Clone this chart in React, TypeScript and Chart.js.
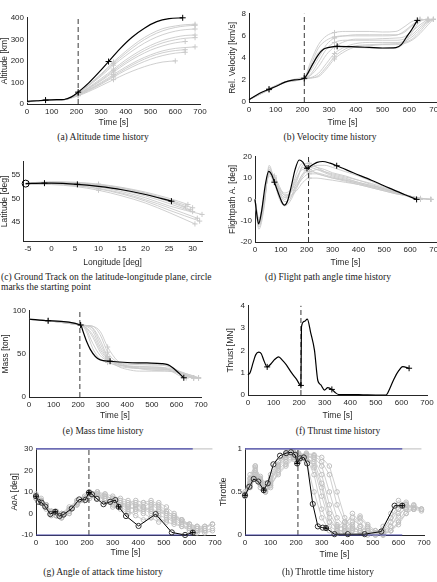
import React, { useEffect, useRef } from "react";
import { Chart, registerables } from "chart.js";
Chart.register(...registerables);

// ---------- tick labels ----------
const timeTicks = [0, 100, 200, 300, 400, 500, 600, 700];
const altTicks = [0, 100, 200, 300, 400];
const velTicks = [0, 2, 4, 6, 8];
const lonTicks = [-5, 0, 5, 10, 15, 20, 25, 30];
const latTicks = [45, 50, 55];
const fpaTicks = [-20, -10, 0, 10, 20];
const massTicks = [0, 50, 100];
const thrustTicks = [0, 1, 2, 3, 4];
const aoaTicks = [-10, 0, 10, 20, 30];
const throttleTicks = [0, 0.5, 1];
const phaseSwitch = 207;

// ---------- (a) altitude ----------
const altT = [0, 40, 75, 120, 150, 180, 207, 250, 300, 330, 375, 425, 475, 525, 575, 630];
const altB = [12, 15, 18, 20, 21, 33, 55, 98, 158, 197, 255, 310, 352, 382, 396, 400];
const altMarks = [2, 6, 9, 15];
const altGT = [0, 75, 150, 207, 250, 300, 350, 400, 450, 500, 550, 600, 640, 680];
const altG1 = [10, 17, 20, 52, 90, 140, 195, 245, 290, 325, 350, 362, 368, 370];
const altG2 = [10, 17, 20, 50, 85, 130, 180, 225, 265, 298, 322, 338, 345, 348];
const altG3 = [10, 17, 20, 47, 78, 118, 162, 205, 242, 272, 295, 310, 318, 320];
const altG4 = [10, 17, 20, 45, 72, 108, 148, 188, 222, 250, 270, 284, 290, null];
const altG5 = [10, 17, 20, 43, 68, 100, 137, 172, 203, 228, 247, 258, 262, 265];
const altG6 = [10, 17, 20, 40, 62, 92, 125, 157, 185, 208, 225, 236, 240, null];
const altG7 = [10, 17, 20, 38, 58, 85, 113, 140, 163, 182, 195, 200, null, null];
const altG8 = [10, 17, 20, 51, 88, 136, 188, 236, 280, 315, 340, 355, 362, 365];
const altG9 = [10, 17, 20, 46, 75, 112, 155, 196, 232, 262, 284, 298, 305, 308];
const altG10 = [10, 17, 20, 42, 65, 96, 130, 165, 195, 220, 238, 248, 252, null];

// ---------- (b) velocity ----------
const velT = [0, 40, 75, 100, 140, 170, 207, 220, 240, 260, 280, 300, 330, 400, 450, 500, 550, 570, 590, 610, 630];
const velB = [0.2, 0.8, 1.15, 1.4, 1.85, 2.0, 2.15, 2.6, 3.5, 4.3, 4.8, 4.95, 5.05, 5.0, 4.95, 4.9, 4.93, 5.2, 5.9, 6.6, 7.4];
const velMarks = [2, 6, 12, 20];
const velGT = [0, 75, 140, 207, 230, 260, 290, 320, 360, 400, 450, 500, 550, 580, 610, 640, 670, 690];
const velG1 = [0.2, 1.15, 1.85, 2.2, 3.6, 5.2, 6.0, 6.3, 6.4, 6.4, 6.4, 6.35, 6.4, 6.8, 7.3, 7.5, null, null];
const velG2 = [0.2, 1.2, 1.85, 2.2, 2.8, 4.0, 5.2, 5.8, 6.0, 6.1, 6.1, 6.1, 6.1, 6.3, 6.9, 7.4, 7.5, null];
const velG3 = [0.2, 1.15, 1.85, 2.15, 2.4, 3.2, 4.3, 5.0, 5.5, 5.7, 5.7, 5.75, 5.8, 5.9, 6.4, 7.0, 7.5, null];
const velG4 = [0.2, 1.1, 1.8, 2.1, 2.2, 2.6, 3.5, 4.4, 5.0, 5.3, 5.4, 5.4, 5.4, 5.5, 5.9, 6.6, 7.3, 7.5];
const velG5 = [0.2, 1.2, 1.85, 2.2, 2.2, 2.3, 3.0, 3.9, 4.6, 5.0, 5.1, 5.2, 5.2, 5.3, 5.6, 6.2, 7.0, 7.5];
const velG6 = [0.2, 1.15, 1.85, 2.15, 3.0, 4.5, 4.9, 5.0, 5.0, 4.95, 4.9, 4.85, 4.9, 5.3, 6.3, 7.3, 7.5, null];
const velG7 = [0.2, 1.15, 1.85, 2.2, 3.3, 4.9, 5.6, 5.9, 6.0, 6.0, 6.0, 6.0, 6.05, 6.4, 7.0, 7.5, null, null];
const velG8 = [0.2, 1.2, 1.85, 2.2, 2.5, 3.6, 4.8, 5.4, 5.6, 5.6, 5.6, 5.6, 5.6, 5.7, 6.1, 6.8, 7.4, null];
const velG9 = [0.2, 1.1, 1.8, 2.1, 2.15, 2.4, 3.2, 4.1, 4.8, 5.1, 5.2, 5.25, 5.3, 5.4, 5.7, 6.4, 7.2, 7.5];

// ---------- (c) ground track ----------
const lonB = [-5.5, -1.5, 0, 5.5, 10, 15, 20, 25.5];
const latB = [53.1, 53.2, 53.2, 52.95, 52.5, 51.8, 50.8, 49.4];
const lonMarks = [1, 3, 7];
const lonG1 = [-5.5, 0, 5, 10, 15, 20, 25, 29];
const lonG2 = [-5.5, 0, 5, 10, 15, 20, 25, 30];
const lonG3 = [-5.5, 0, 5, 10, 15, 20, 25, 31];
const lonG4 = [-5.5, 0, 5, 10, 15, 20, 25, 30.5];
const lonG5 = [-5.5, 0, 5, 10, 15, 20, 25, 28.5];
const lonG6 = [-5.5, 0, 5, 10, 15, 20, 25, 32];
const lonG7 = [-5.5, 0, 5, 10, 15, 20, 25, 30];
const lonG8 = [-5.5, 0, 5, 10, 15, 20, 25, 31.5];
const lonG9 = [-5.5, 0, 5, 10, 15, 20, 25, 29.5];
const latG1 = [53.2, 53.5, 53.4, 53.0, 52.3, 51.3, 50.0, 48.7];
const latG2 = [53.1, 53.3, 53.1, 52.6, 51.7, 50.5, 48.9, 47.2];
const latG3 = [53.0, 53.1, 52.8, 52.1, 51.1, 49.7, 48.0, 45.8];
const latG4 = [53.0, 52.9, 52.5, 51.7, 50.5, 49.0, 47.0, 44.6];
const latG5 = [53.1, 53.3, 53.2, 52.8, 52.1, 51.0, 49.5, 48.2];
const latG6 = [53.1, 53.2, 53.0, 52.4, 51.4, 50.1, 48.4, 46.6];
const latG7 = [53.1, 53.4, 53.3, 52.9, 52.2, 51.1, 49.7, 48.0];
const latG8 = [53.0, 53.0, 52.7, 52.0, 50.9, 49.4, 47.5, 45.2];
const latG9 = [53.1, 53.2, 53.1, 52.7, 51.9, 50.8, 49.3, 47.6];

// ---------- (d) flight path angle ----------
const fpaT = [0, 7, 14, 25, 40, 53, 65, 75, 90, 105, 113, 125, 140, 155, 171, 185, 201, 220, 240, 262, 290, 316, 380, 450, 520, 580, 625];
const fpaB = [0, -7, -11.5, -6, 7, 13.2, 11.5, 8.1, 3, -1.5, -2.7, -1, 6, 14, 18.5, 17.5, 14.6, 16, 17.4, 17.8, 17, 15.8, 12.5, 9, 5.3, 2.2, 0];
const fpaMarks = [7, 16, 21, 26];
const fpaGT = [0, 15, 35, 55, 75, 95, 115, 135, 160, 185, 210, 240, 270, 300, 350, 400, 450, 500, 550, 600, 640, 680];
const fpaG1 = [0, -13, -3, 15, 9, 2, -3, 2, 12, 17, 15, 16, 16, 15, 13, 11, 8.5, 6, 3.5, 1.5, 0, null];
const fpaG2 = [0, -10, 1, 12, 8, 3, 0, 3, 10, 14, 13, 14, 13, 12, 10.5, 9, 7, 5, 3, 1, 0, null];
const fpaG3 = [0, -11, -2, 14, 10, 4, 1, 1, 6, 12, 13, 12.5, 11.5, 10.5, 9, 7.5, 6, 4.5, 3, 1.5, 0.5, 0];
const fpaG4 = [0, -12, -1, 13, 11, 6, 2, 2, 4, 8, 10, 10, 9.5, 9, 8, 7, 5.5, 4, 2.5, 1.5, 0.5, 0];
const fpaG5 = [0, -9, 1, 11, 9, 5, 3, 4, 7, 12, 16, 15, 14, 12.5, 11, 9, 7.5, 5.5, 3.5, 1.5, 0.5, 0];
const fpaG6 = [0, -14, -4, 16, 8, 0, -3, -1, 5, 11, 14, 12, 11, 10, 8.5, 7, 5.5, 4, 2.5, 1.5, 0, null];
const fpaG7 = [0, -11, 0, 13, 10, 4, 1, 3, 9, 16, 17, 15, 13, 11.5, 10, 8, 6.5, 5, 3, 1.5, 0, null];
const fpaG8 = [0, -12, -2, 14, 9, 3, -1, 0, 8, 15, 15, 14, 12.5, 11, 9.5, 8, 6.5, 5, 3, 1.5, 0.5, 0];
const fpaG9 = [0, -10, 0, 12, 10, 5, 2, 3, 6, 10, 12, 12, 11, 10, 9, 7.5, 6, 4.5, 3, 1.5, 0.5, null];

// ---------- (e) mass ----------
const massT = [0, 78, 210, 220, 235, 250, 270, 290, 330, 400, 480, 540, 565, 585, 605, 630];
const massB = [90.4, 88.5, 83.5, 76, 64, 55, 47, 43, 41.5, 40, 39.5, 38.8, 37.5, 34, 29, 22.3];
const massMarks = [1, 2, 8, 15];
const massGT = [0, 78, 210, 230, 260, 290, 320, 360, 400, 450, 500, 550, 580, 610, 640, 670, 690];
const massG1 = [90, 88.5, 83.5, 80, 62, 48, 42, 39, 38, 37.5, 37, 36.5, 34, 29, 24, 22, null];
const massG2 = [90, 88.5, 83.5, 82.5, 76, 58, 45, 38, 35, 34, 33.5, 33, 32, 29, 25.5, 22.5, null];
const massG3 = [90, 88.5, 83.5, 83, 82, 72, 52, 40, 35, 33, 32.5, 32, 31.5, 30, 27, 24, 22];
const massG4 = [90, 88.5, 83.5, 78, 56, 44, 40, 37, 36, 35.5, 35, 34, 30, 25, 22, null, null];
const massG5 = [90, 88.5, 83.5, 83, 80, 66, 47, 36, 32, 30, 30, 30, 29.5, 28, 25.5, 23, 22];
const massG6 = [90, 88.5, 83.5, 81, 69, 52, 42, 36, 34, 33, 32.5, 32, 30.5, 27, 23.5, 22, null];
const massG7 = [90, 88.5, 83.5, 83, 79, 62, 46, 38, 36, 35, 34.5, 34, 33, 30, 26, 23, 22];
const massG8 = [90, 88.5, 83.5, 81, 72, 55, 44, 40, 39, 38.5, 38, 37.5, 35, 30, 25, 22, null];
const massG9 = [90, 88.5, 83.5, 83, 82, 76, 58, 42, 36, 33, 31, 30.5, 30, 29, 27, 24.5, 22.5];

// ---------- (f) thrust ----------
const thrT = [0, 8, 20, 30, 42, 52, 62, 75, 90, 105, 120, 135, 150, 170, 190, 207, 209, 220, 232, 245, 260, 273, 285, 299, 312, 328, 340, 355, 400, 450, 500, 540, 555, 570, 590, 605, 630];
const thrB = [0.9, 1.0, 1.45, 1.8, 1.92, 1.85, 1.55, 1.26, 1.4, 1.6, 1.71, 1.55, 1.35, 1.0, 0.7, 0.43, 3.05, 3.3, 3.4, 2.8, 2.0, 0.65, 0.45, 0.22, 0.33, 0.25, 0.12, 0.02, 0.02, 0.01, 0, 0, 0.3, 0.7, 1.1, 1.27, 1.2];
const thrMarks = [7, 15, 25, 36];

// ---------- (g) angle of attack ----------
const aoaT = [0, 10, 22, 36, 56, 75, 92, 108, 140, 169, 193, 207, 219, 238, 264, 290, 310, 323, 352, 401, 468, 531, 583, 613];
const aoaB = [8, 5.4, 5, 3.2, -0.3, 0.8, -1.2, -0.5, 2.3, 6.5, 6.3, 9.7, 8.9, 6.8, 4.3, 5.4, 6.2, 3.1, -1.2, -5.8, -0.3, -8.8, -10, -8.9];
const aoaMarks = [0, 5, 11, 17, 23];
const aoaBounds = [30, -10];
const ctrlGT = [0, 20, 40, 60, 80, 100, 130, 160, 190, 210, 240, 270, 300, 330, 360, 390, 420, 450, 480, 510, 540, 570, 600, 630, 660, 690];
const aoaG1 = [8, 6, 3, 0, 0, -1, 1, 5, 7, 9, 9, 7, 6, 5, 4, 5, 3, 2, 1, -1, -3, -5, -7, -8, null, null];
const aoaG2 = [7, 5, 2, -1, -1, -2, 0, 4, 6, 8, 10, 8, 7, 6, 5, 6, 5, 4, 2, 0, -2, -3, -5, -6, -7, null];
const aoaG3 = [8, 6, 4, 1, 0, 0, 2, 6, 8, 10, 9, 6, 5, 3, 1, -1, -3, -2, 0, 1, -1, -3, -6, -8, -9, -8];
const aoaG4 = [9, 6, 3, 0, -1, -1, 1, 5, 7, 8, 7, 5, 4, 4, 3, 2, 0, -2, -4, -3, -2, -4, -6, -7, -7, -5];
const aoaG5 = [8, 7, 4, 1, 1, 0, 3, 6, 7, 9, 8, 9, 8, 7, 6, 4, 2, 0, -1, -2, -4, -6, -8, -9, -8, null];
const aoaG6 = [8, 5, 3, 0, -1, -2, 0, 4, 6, 7, 8, 6, 3, 2, 0, 1, 3, 5, 3, 0, -2, -4, -5, -6, -6, -5];
const aoaG7 = [8, 6, 3, 1, -1, -1, 2, 5, 7, 9, 9, 8, 7, 5, 3, 2, 1, 3, 5, 3, 0, -3, -5, -7, -8, -7];
const aoaG8 = [7, 5, 3, 0, 0, -2, 1, 5, 6, 8, 10, 9, 6, 4, 2, 3, 5, 6, 4, 1, -1, -3, -6, -8, -8, null];
const aoaG9 = [8, 6, 4, 0, -1, -1, 1, 4, 6, 9, 8, 7, 6, 5, 4, 4, 3, 1, -2, -4, -5, -6, -7, -8, -6, -5];

// ---------- (h) throttle ----------
const thrtT = [0, 17, 34, 52, 73, 89, 111, 137, 161, 180, 196, 204, 215, 230, 243, 265, 285, 304, 317, 350, 402, 468, 533, 585, 615];
const thrtB = [0.46, 0.56, 0.65, 0.62, 0.52, 0.6, 0.82, 0.92, 0.95, 0.96, 0.93, 0.83, 0.89, 0.9, 0.83, 0.36, 0.1, 0.085, 0.08, 0.01, 0.01, 0.01, 0.04, 0.34, 0.34];
const thrtMarks = [0, 4, 11, 18, 24];
const thrtBounds = [1, 0];
const thrtG1 = [0.45, 0.6, 0.75, 0.6, 0.5, 0.6, 0.8, 0.9, 0.95, 0.92, 0.9, 0.7, 0.3, 0.1, 0.05, 0.05, 0.08, 0.05, 0, 0, 0.05, 0.2, 0.3, 0.35, null, null];
const thrtG2 = [0.5, 0.7, 0.8, 0.65, 0.55, 0.7, 0.85, 0.93, 0.9, 0.85, 0.88, 0.85, 0.6, 0.25, 0.1, 0.15, 0.2, 0.1, 0.05, 0.02, 0, 0.1, 0.25, 0.3, 0.3, null];
const thrtG3 = [0.45, 0.55, 0.65, 0.55, 0.5, 0.55, 0.75, 0.85, 0.9, 0.88, 0.92, 0.9, 0.8, 0.5, 0.2, 0.1, 0.05, 0.03, 0.02, 0, 0, 0.05, 0.15, 0.3, 0.35, 0.3];
const thrtG4 = [0.48, 0.65, 0.7, 0.6, 0.55, 0.65, 0.8, 0.95, 0.97, 0.93, 0.85, 0.5, 0.2, 0.05, 0.02, 0.05, 0.12, 0.2, 0.1, 0.02, 0.05, 0.2, 0.35, 0.38, 0.3, null];
const thrtG5 = [0.45, 0.58, 0.72, 0.62, 0.52, 0.58, 0.7, 0.8, 0.88, 0.9, 0.94, 0.92, 0.85, 0.7, 0.35, 0.15, 0.1, 0.05, 0.08, 0.05, 0.02, 0.05, 0.12, 0.25, 0.3, 0.28];
const thrtG6 = [0.47, 0.62, 0.78, 0.68, 0.6, 0.62, 0.78, 0.88, 0.92, 0.95, 0.93, 0.78, 0.45, 0.15, 0.08, 0.1, 0.25, 0.15, 0.05, 0.02, 0.1, 0.25, 0.4, 0.35, 0.3, null];
const thrtG7 = [0.46, 0.6, 0.72, 0.64, 0.55, 0.63, 0.82, 0.92, 0.96, 0.94, 0.9, 0.8, 0.55, 0.2, 0.06, 0.04, 0.06, 0.1, 0.05, 0.02, 0.03, 0.15, 0.3, 0.36, 0.32, null];
const thrtG8 = [0.47, 0.66, 0.8, 0.66, 0.56, 0.66, 0.85, 0.94, 0.92, 0.9, 0.92, 0.88, 0.7, 0.35, 0.12, 0.08, 0.15, 0.22, 0.12, 0.05, 0.04, 0.1, 0.22, 0.32, 0.34, 0.3];
const thrtG9 = [0.45, 0.57, 0.68, 0.58, 0.5, 0.57, 0.72, 0.82, 0.9, 0.92, 0.95, 0.93, 0.9, 0.8, 0.5, 0.2, 0.08, 0.05, 0.03, 0.01, 0.01, 0.05, 0.15, 0.25, 0.32, 0.3];

// ---------- styling ----------
const SANS = "'Liberation Sans', Arial, Helvetica, sans-serif";
const SERIF = "'Liberation Serif', 'Times New Roman', serif";
const AX = "#262626";
const BLACK = "#000000";
const GRAY = "#cacaca";
const BLUE = "rgb(72,72,170)";
const TICK_SIZE = 8;
const TITLE_SIZE = 8.5;
const PT = 7;
const PR = 10;
const LH = TITLE_SIZE * 1.2;

type Geo = { L: number; R: number; T: number; B: number; tx: number; ty: number };

function pts(xs: number[], ys: (number | null)[]) {
  const out: { x: number; y: number }[] = [];
  xs.forEach((x, i) => {
    const y = ys[i];
    if (y !== null && y !== undefined) out.push({ x, y });
  });
  return out;
}

function line(xs: number[], ys: (number | null)[], o: any) {
  const data = pts(xs, ys);
  const last = data.length - 1;
  const marks: any = o.marks;
  const radius = (ctx: any) => {
    const i = ctx.dataIndex;
    if (marks === "all") return o.r;
    if (!marks) return 0;
    if (marks.includes(i) || (marks.includes("last") && i === last)) return o.r;
    return 0;
  };
  return {
    data,
    borderColor: o.color,
    borderWidth: o.width,
    borderDash: o.dash || [],
    pointRadius: radius,
    pointHoverRadius: radius,
    pointStyle: o.style || "cross",
    pointBorderColor: o.pcolor || o.color,
    pointBackgroundColor: "rgba(0,0,0,0)",
    pointBorderWidth: o.pw || 1,
    cubicInterpolationMode: o.smooth ? "monotone" : "default",
    tension: 0,
    fill: false,
    clip: false,
    showLine: o.noLine ? false : true,
  };
}

const vline = (x: number, y0: number, y1: number) =>
  line([x, x], [y0, y1], { color: "#3a3a3a", width: 1, dash: [5, 3] });

function axis(min: number, max: number, ticks: number[], title: string, fit: (s: any) => void) {
  return {
    type: "linear",
    min,
    max,
    afterBuildTicks: (s: any) => {
      s.ticks = ticks.map((v) => ({ value: v }));
    },
    afterFit: fit,
    grid: { display: false, drawTicks: false },
    border: { display: true, color: AX, width: 1 },
    ticks: {
      color: AX,
      font: { family: SANS, size: TICK_SIZE },
      padding: 3,
      autoSkip: false,
      maxRotation: 0,
      callback: (v: any) => String(v),
    },
    title: { display: true, text: title, color: AX, font: { family: SANS, size: TITLE_SIZE }, padding: 0 },
  };
}

function Panel(props: {
  g: Geo;
  xr: number[];
  xt: number[];
  xTitle: string;
  yr: number[];
  yt: number[];
  yTitle: string;
  datasets: () => any[];
}) {
  const ref = useRef<HTMLCanvasElement | null>(null);
  const { g } = props;
  const left = Math.round(g.tx - LH / 2);
  const top = g.T - PT;
  const width = Math.round(g.R + PR - left);
  const height = Math.round(g.ty + LH / 2 - top);
  const yW = g.L - left;
  const xH = height - (g.B - top);
  useEffect(() => {
    if (!ref.current) return;
    const chart = new Chart(ref.current, {
      type: "line",
      data: { datasets: props.datasets() },
      options: {
        responsive: false,
        animation: false,
        events: [],
        layout: { padding: { top: PT, right: PR, left: 0, bottom: 0 } },
        plugins: { legend: { display: false }, tooltip: { enabled: false } },
        scales: {
          x: axis(props.xr[0], props.xr[1], props.xt, props.xTitle, (s: any) => {
            s.height = xH;
          }),
          y: axis(props.yr[0], props.yr[1], props.yt, props.yTitle, (s: any) => {
            s.width = yW;
          }),
        },
      } as any,
    } as any);
    return () => chart.destroy();
  }, []);
  return (
    <canvas
      ref={ref}
      width={width}
      height={height}
      style={{ position: "absolute", left, top, width, height, display: "block" }}
    />
  );
}

const grayOpts = (marks: any) => ({ color: GRAY, width: 0.9, marks, style: "cross", r: 2.6, smooth: true });
const ctrlGray = { color: GRAY, width: 0.9, marks: "all", style: "circle", r: 2.3, pcolor: "#c0c0c0" };
const blackOpts = (marks: number[]) => ({ color: BLACK, width: 1.2, marks, r: 3, smooth: true });

function Caption(p: { cx: number; cy: number; text: string }) {
  return (
    <div
      style={{
        position: "absolute",
        left: p.cx - 110,
        width: 220,
        top: p.cy - 5.5,
        textAlign: "center",
        fontFamily: SERIF,
        fontSize: 9.5,
        lineHeight: "11px",
        color: "#222",
        whiteSpace: "nowrap",
      }}
    >
      {p.text}
    </div>
  );
}

export default function App() {
  return (
    <div style={{ position: "absolute", left: 0, top: 0, width: 437, height: 582, overflow: "hidden", background: "#fff" }}>
      <Panel
        g={{ L: 27, R: 200, T: 17, B: 104, tx: 5, ty: 123 }}
        xr={[0, 700]} xt={timeTicks} xTitle="Time [s]"
        yr={[0, 400]} yt={altTicks} yTitle="Altitude [km]"
        datasets={() => [
          line(altT, altB, blackOpts(altMarks)),
          vline(phaseSwitch, 0, 400),
          ...[altG1, altG2, altG3, altG4, altG5, altG6, altG7, altG8, altG9, altG10].map((ys) =>
            line(altGT, ys, grayOpts([1, 3, 6, "last"]))
          ),
        ]}
      />
      <Caption cx={103} cy={137} text="(a) Altitude time history" />

      <Panel
        g={{ L: 249, R: 436, T: 13, B: 102, tx: 233, ty: 123 }}
        xr={[0, 700]} xt={timeTicks} xTitle="Time [s]"
        yr={[0, 8]} yt={velTicks} yTitle="Rel. Velocity [km/s]"
        datasets={() => [
          line(velT, velB, blackOpts(velMarks)),
          vline(phaseSwitch, 0, 8),
          ...[velG1, velG2, velG3, velG4, velG5, velG6, velG7, velG8, velG9].map((ys) =>
            line(velGT, ys, grayOpts([1, 3, 7, "last"]))
          ),
        ]}
      />
      <Caption cx={330} cy={137} text="(b) Velocity time history" />

      <Panel
        g={{ L: 23.3, R: 202.4, T: 161, B: 241, tx: 5, ty: 263 }}
        xr={[-6, 32]} xt={lonTicks} xTitle="Longitude [deg]"
        yr={[41, 57.7]} yt={latTicks} yTitle="Latitude [deg]"
        datasets={() => [
          line(lonB, latB, blackOpts(lonMarks)),
          line([lonB[0]], [latB[0]], { color: BLACK, width: 1, marks: "all", style: "circle", r: 3.5, noLine: true }),
          ...[
            [lonG1, latG1],
            [lonG2, latG2],
            [lonG3, latG3],
            [lonG4, latG4],
            [lonG5, latG5],
            [lonG6, latG6],
            [lonG7, latG7],
            [lonG8, latG8],
            [lonG9, latG9],
          ].map(([xs, ys]) => line(xs as number[], ys as number[], grayOpts([3, "last"]))),
        ]}
      />
      <div
        style={{
          position: "absolute",
          left: 1,
          top: 271.5,
          width: 230,
          fontFamily: SERIF,
          fontSize: 9.5,
          lineHeight: "10px",
          color: "#222",
        }}
      >
        <div style={{ whiteSpace: "nowrap" }}>(c) Ground Track on the latitude-longitude plane, circle</div>
        <div style={{ whiteSpace: "nowrap" }}>marks the starting point</div>
      </div>

      <Panel
        g={{ L: 255, R: 436, T: 156, B: 242, tx: 233, ty: 263 }}
        xr={[0, 700]} xt={timeTicks} xTitle="Time [s]"
        yr={[-20, 20]} yt={fpaTicks} yTitle="Flightpath A. [deg]"
        datasets={() => [
          line(fpaT, fpaB, blackOpts(fpaMarks)),
          vline(phaseSwitch, -20, 20),
          ...[fpaG1, fpaG2, fpaG3, fpaG4, fpaG5, fpaG6, fpaG7, fpaG8, fpaG9].map((ys) =>
            line(fpaGT, ys, grayOpts([4, 10, "last"]))
          ),
        ]}
      />
      <Caption cx={328} cy={277} text="(d) Flight path angle time history" />

      <Panel
        g={{ L: 29, R: 201, T: 310, B: 397, tx: 6, ty: 416 }}
        xr={[0, 700]} xt={timeTicks} xTitle="Time [s]"
        yr={[0, 100]} yt={massTicks} yTitle="Mass [ton]"
        datasets={() => [
          line(massT, massB, blackOpts(massMarks)),
          vline(phaseSwitch, 0, 100),
          ...[massG1, massG2, massG3, massG4, massG5, massG6, massG7, massG8, massG9].map((ys) =>
            line(massGT, ys, grayOpts([1, 2, 6, "last"]))
          ),
        ]}
      />
      <Caption cx={103} cy={431} text="(e) Mass time history" />

      <Panel
        g={{ L: 248, R: 427, T: 305, B: 395, tx: 231, ty: 416 }}
        xr={[0, 700]} xt={timeTicks} xTitle="Time [s]"
        yr={[0, 4]} yt={thrustTicks} yTitle="Thrust [MN]"
        datasets={() => [line(thrT, thrB, blackOpts(thrMarks)), vline(phaseSwitch, 0, 4)]}
      />
      <Caption cx={338} cy={431} text="(f) Thrust time history" />

      <Panel
        g={{ L: 36, R: 215, T: 448, B: 535, tx: 15, ty: 553 }}
        xr={[0, 700]} xt={timeTicks} xTitle="Time [s]"
        yr={[-10, 30]} yt={aoaTicks} yTitle="AoA [deg]"
        datasets={() => [
          line(aoaT, aoaB, { color: BLACK, width: 1, marks: aoaMarks, r: 2.6, noLine: true }),
          line(aoaT, aoaB, { color: BLACK, width: 1, marks: "all", style: "circle", r: 2.6, pcolor: "#333" }),
          line([0, aoaT[aoaT.length - 1]], [aoaBounds[0], aoaBounds[0]], { color: BLUE, width: 1.2 }),
          line([0, aoaT[aoaT.length - 1]], [aoaBounds[1], aoaBounds[1]], { color: BLUE, width: 1.2 }),
          vline(phaseSwitch, -10, 30),
          line([0, 690], [aoaBounds[0], aoaBounds[0]], { color: GRAY, width: 1.2 }),
          ...[aoaG1, aoaG2, aoaG3, aoaG4, aoaG5, aoaG6, aoaG7, aoaG8, aoaG9].map((ys) => line(ctrlGT, ys, ctrlGray)),
        ]}
      />
      <Caption cx={103} cy={572} text="(g) Angle of attack time history" />

      <Panel
        g={{ L: 245, R: 424, T: 448, B: 535, tx: 224, ty: 555 }}
        xr={[0, 700]} xt={timeTicks} xTitle="Time [s]"
        yr={[0, 1]} yt={throttleTicks} yTitle="Throttle"
        datasets={() => [
          line(thrtT, thrtB, { color: BLACK, width: 1, marks: thrtMarks, r: 2.6, noLine: true }),
          line(thrtT, thrtB, { color: BLACK, width: 1, marks: "all", style: "circle", r: 2.6, pcolor: "#333" }),
          line([0, thrtT[thrtT.length - 1]], [thrtBounds[0], thrtBounds[0]], { color: BLUE, width: 1.2 }),
          line([0, thrtT[thrtT.length - 1]], [thrtBounds[1], thrtBounds[1]], { color: BLUE, width: 1.2 }),
          vline(phaseSwitch, 0, 1),
          line([0, 690], [thrtBounds[0], thrtBounds[0]], { color: GRAY, width: 1.2 }),
          ...[thrtG1, thrtG2, thrtG3, thrtG4, thrtG5, thrtG6, thrtG7, thrtG8, thrtG9].map((ys) =>
            line(ctrlGT, ys, ctrlGray)
          ),
        ]}
      />
      <Caption cx={328} cy={572} text="(h) Throttle time history" />
    </div>
  );
}
